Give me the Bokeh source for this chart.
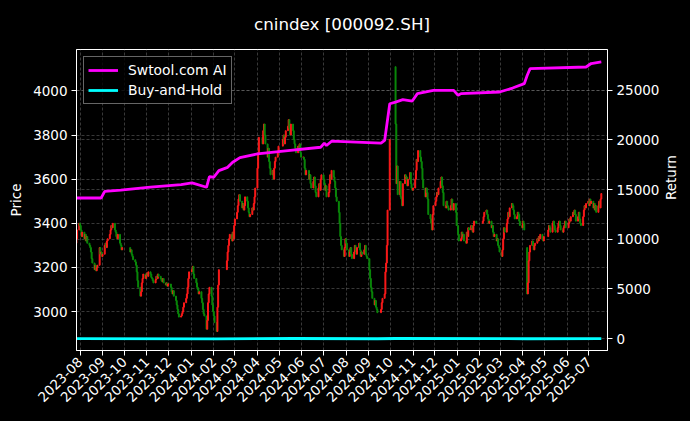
import math
import pandas as pd
from bokeh.plotting import figure
from bokeh.models import (Range1d, LinearAxis, Grid, FixedTicker, MonthsTicker,
                          DatetimeTickFormatter, ColumnDataSource, Legend, LegendItem)
from bokeh.embed import file_html
from bokeh.resources import INLINE

# ---------------- data ----------------
TITLE = "cnindex [000092.SH]"
start_date = "2023-07-27"
end_date = "2025-07-18"
holidays = ["2023-09-29", "2023-10-02", "2023-10-03", "2023-10-04", "2023-10-05", "2023-10-06",
            "2024-01-01", "2024-02-09", "2024-02-12", "2024-02-13", "2024-02-14", "2024-02-15",
            "2024-02-16", "2024-04-04", "2024-04-05", "2024-05-01", "2024-05-02", "2024-05-03",
            "2024-06-10", "2024-09-16", "2024-09-17", "2024-10-01", "2024-10-02", "2024-10-03",
            "2024-10-04", "2024-10-07", "2025-01-01", "2025-01-28", "2025-01-29", "2025-01-30",
            "2025-01-31", "2025-02-03", "2025-02-04", "2025-04-04", "2025-05-01", "2025-05-02",
            "2025-05-05", "2025-06-02"]

close = [
    # 2023-07
    3330, 3370, 3400,
    # 2023-08
    3390, 3370, 3340, 3360, 3330, 3350, 3320, 3340, 3310, 3300, 3290, 3270, 3240, 3220,
    3190, 3210, 3185, 3200, 3210, 3290, 3260, 3270, 3250,
    # 2023-09
    3260, 3300, 3310, 3290, 3320, 3330, 3350, 3370, 3390, 3380, 3400, 3370, 3360, 3340,
    3330, 3350, 3310, 3300, 3280, 3290,
    # 2023-10
    3270, 3280, 3260, 3250, 3235, 3225, 3210, 3180, 3140, 3110, 3070, 3090, 3130, 3150,
    3170, 3150, 3165,
    # 2023-11
    3175, 3160, 3180, 3170, 3155, 3150, 3140, 3130, 3145, 3160, 3150, 3170, 3160, 3150,
    3140, 3135, 3150, 3130, 3120, 3130, 3115, 3125,
    # 2023-12
    3125, 3110, 3090, 3080, 3095, 3070, 3050, 3030, 3010, 2990, 2975, 2980, 2990, 3000,
    3020, 3040, 3060, 3080, 3110, 3150, 3180,
    # 2024-01
    3190, 3205, 3170, 3150, 3130, 3110, 3100, 3080, 3090, 3060, 3040, 3010, 2990, 2980,
    2920, 2960, 3040, 3080, 3110, 3070, 3030, 3000,
    # 2024-02
    2980, 2950, 2910, 3020, 3120, 3190, 3230, 3270, 3300, 3330, 3350, 3320, 3360, 3330, 3390,
    # 2024-03
    3420, 3450, 3480, 3510, 3530, 3500, 3470, 3490, 3460, 3480, 3520, 3500, 3470, 3450,
    3430, 3440, 3470, 3460, 3490, 3520, 3560,
    # 2024-04
    3650, 3720, 3790, 3760, 3820, 3850, 3800, 3760, 3700, 3740, 3680, 3650, 3620, 3640,
    3600, 3650, 3680, 3700, 3720, 3750,
    # 2024-05
    3780, 3800, 3760, 3790, 3820, 3840, 3870, 3830, 3800, 3850, 3820, 3780, 3760, 3740,
    3720, 3750, 3730, 3760, 3720, 3700,
    # 2024-06
    3700, 3690, 3650, 3620, 3640, 3600, 3620, 3580, 3560, 3590, 3610, 3570, 3540, 3520,
    3560, 3580, 3550, 3600, 3620,
    # 2024-07
    3600, 3580, 3550, 3570, 3520, 3540, 3580, 3620, 3600, 3640, 3610, 3590, 3560, 3520,
    3500, 3450, 3400, 3340, 3300, 3280, 3250, 3290, 3330,
    # 2024-08
    3310, 3280, 3250, 3270, 3290, 3260, 3240, 3270, 3300, 3280, 3260, 3290, 3310, 3280,
    3250, 3270, 3260, 3280, 3300, 3260, 3250, 3240,
    # 2024-09
    3190, 3150, 3110, 3090, 3060, 3030, 3050, 3020, 3010, 2995, 3010, 3040, 3060, 3080,
    3180, 3220, 3300, 3460, 3780,
    # 2024-10
    3850, 3580, 3660, 3530, 3590, 3520, 3510, 3480, 3580, 3620, 3600, 3610, 3570, 3600,
    3630, 3580, 3560, 3550,
    # 2024-11
    3560, 3600, 3640, 3690, 3680, 3730, 3700, 3680, 3650, 3600, 3560, 3520, 3560, 3540,
    3510, 3440, 3420, 3400, 3370, 3440, 3480,
    # 2024-12
    3500, 3520, 3540, 3530, 3560, 3590, 3610, 3570, 3540, 3480, 3470, 3500, 3480, 3470,
    3460, 3480, 3510, 3470, 3460, 3490, 3450, 3390,
    # 2025-01
    3350, 3320, 3330, 3360, 3340, 3350, 3320, 3310, 3360, 3340, 3380, 3370, 3390, 3380,
    3360, 3390, 3410, 3400,
    # 2025-02
    3410, 3430, 3450, 3460, 3440, 3420, 3400, 3410, 3380, 3390, 3360, 3340, 3350, 3320,
    3330, 3300, 3290, 3270,
    # 2025-03
    3250, 3280, 3330, 3380, 3360, 3400, 3420, 3450, 3430, 3470, 3490, 3480, 3460, 3440,
    3420, 3430, 3450, 3440, 3410, 3390, 3380,
    # 2025-04
    3410, 3400, 3370, 3080, 3130, 3230, 3270, 3300, 3320, 3300, 3280, 3300, 3310, 3330,
    3320, 3340, 3330, 3350, 3330, 3320, 3340,
    # 2025-05
    3370, 3390, 3380, 3360, 3400, 3410, 3390, 3370, 3360, 3380, 3400, 3410, 3390, 3370,
    3360, 3380, 3390, 3410, 3380,
    # 2025-06
    3400, 3420, 3410, 3430, 3450, 3440, 3460, 3440, 3410, 3430, 3450, 3420, 3400, 3390,
    3430, 3460, 3480, 3470, 3490, 3500,
    # 2025-07
    3480, 3510, 3490, 3500, 3470, 3490, 3460, 3480, 3450, 3480, 3500, 3470, 3510, 3535,
]
first_open = 3310
gap_open_dates = ["2024-10-08", "2025-04-07"]
gap_open_values = [4110, 3290]

ret_dates = ["2023-07-27", "2023-08-30", "2023-09-04", "2023-09-26", "2023-11-06",
             "2023-12-18", "2024-01-02", "2024-01-22", "2024-01-26", "2024-02-01",
             "2024-02-08", "2024-02-20", "2024-02-27", "2024-03-08", "2024-04-01",
             "2024-05-13", "2024-06-27", "2024-07-02", "2024-07-05", "2024-07-12",
             "2024-09-18", "2024-09-23", "2024-09-30", "2024-10-08", "2024-10-18",
             "2024-10-31", "2024-11-07", "2024-11-29", "2024-12-27", "2025-01-02",
             "2025-01-06", "2025-02-28", "2025-03-18", "2025-04-03", "2025-04-07",
             "2025-04-11", "2025-06-27", "2025-07-04", "2025-07-18"]
ret_values = [14160, 14160, 14830, 14950, 15250,
              15500, 15680, 15240, 16310, 16250,
              16920, 17250, 17760, 18230, 18600,
              18940, 19270, 19680, 19440, 19880,
              19680, 19950, 23650, 23820, 24060,
              23920, 24670, 25000, 25000, 24500,
              24670, 24830, 25230, 25670, 26500,
              27190, 27350, 27700, 27860]

bh_dates = ["2023-07-27", "2024-02-05", "2024-05-20", "2024-09-13", "2024-10-08",
            "2025-04-07", "2025-07-18"]
bh_values = [0, -13, 15, -10, 15, -8, 6]

price_ticks = [3000, 3200, 3400, 3600, 3800, 4000]
return_ticks = [0, 5000, 10000, 15000, 20000, 25000]

# ---------------- build ----------------
dates = pd.bdate_range(start_date, end_date)
dates = dates[~dates.isin(pd.to_datetime(holidays))]
n = min(len(dates), len(close))
dates = dates[:n]
cl = close[:n]
op = [first_open] + cl[:-1]
gaps = dict(zip(pd.to_datetime(gap_open_dates), gap_open_values))
op = [gaps.get(d, o) for d, o in zip(dates, op)]

colors = ["#ff1a1a" if c >= o else "#0a8a0a" for o, c in zip(op, cl)]
src = ColumnDataSource(dict(
    x=dates, top=[max(o, c) for o, c in zip(op, cl)],
    bottom=[min(o, c) for o, c in zip(op, cl)], color=colors))

FONT = "DejaVu Sans"
p = figure(width=690, height=421, x_axis_type="datetime",
           x_range=Range1d(pd.Timestamp("2023-07-27 04:00"), pd.Timestamp("2025-07-26 12:00")),
           y_range=Range1d(2823.6, 4188),
           output_backend="svg", toolbar_location=None,
           min_border_left=76, min_border_right=83, min_border_top=49, min_border_bottom=71,
           background_fill_color="black", border_fill_color="black",
           outline_line_color="white", outline_line_width=1)
p.extra_y_ranges = {"ret": Range1d(-1192, 29111)}

p.title.text = TITLE
p.title.align = "center"
p.title.vertical_align = "top"
p.title.text_color = "white"
p.title.text_font = FONT
p.title.text_font_size = "16.7px"
p.title.text_font_style = "normal"
p.title.standoff = 27

p.vbar(x="x", width=86400000 * 1.3, top="top", bottom="bottom",
       fill_color="color", line_color="color", line_width=1, source=src)

r_ai = p.line(pd.to_datetime(ret_dates), ret_values, y_range_name="ret",
              line_color="#ff00ff", line_width=2.8)
r_bh = p.line(pd.to_datetime(bh_dates), bh_values, y_range_name="ret",
              line_color="#00ffff", line_width=2.8)

# axes
month_ticker = MonthsTicker(months=list(range(1, 13)))
p.xaxis.ticker = month_ticker
p.xaxis.formatter = DatetimeTickFormatter(days="%Y-%m", months="%Y-%m", years="%Y-%m")
p.xaxis.major_label_orientation = math.pi / 4
p.yaxis.ticker = FixedTicker(ticks=price_ticks)
p.yaxis.axis_label = "Price"

ax_r = LinearAxis(y_range_name="ret", axis_label="Return",
                  ticker=FixedTicker(ticks=return_ticks))
ax_r.axis_label_orientation = math.pi / 2
p.add_layout(ax_r, "right")

for ax in [p.xaxis[0], p.yaxis[0], ax_r]:
    ax.axis_line_color = "white"
    ax.major_tick_line_color = "white"
    ax.minor_tick_line_color = None
    ax.major_tick_in = 0
    ax.major_tick_out = 5
    ax.major_label_text_color = "white"
    ax.major_label_text_font = FONT
    ax.major_label_text_font_size = "13.5px"
    ax.major_label_standoff = 4
    ax.axis_label_text_color = "white"
    ax.axis_label_text_font = FONT
    ax.axis_label_text_font_size = "13.5px"
    ax.axis_label_text_font_style = "normal"
    ax.axis_label_standoff = 6
ax_r.axis_label_standoff = 9

# grids
for g in [p.xgrid[0], p.ygrid[0]]:
    g.grid_line_color = "#808080"
    g.grid_line_alpha = 0.55
    g.grid_line_dash = "3 2"
    g.grid_line_width = 0.8
p.xgrid.ticker = month_ticker
p.ygrid.ticker = FixedTicker(ticks=price_ticks)
g_r = Grid(dimension=1, ticker=FixedTicker(ticks=return_ticks), y_range_name="ret",
           grid_line_color="#808080", grid_line_alpha=0.55, grid_line_dash="3 2",
           grid_line_width=0.8)
p.add_layout(g_r)

legend = Legend(items=[LegendItem(label="Swtool.com AI", renderers=[r_ai]),
                       LegendItem(label="Buy-and-Hold", renderers=[r_bh])],
                location="top_left", margin=7, padding=4, spacing=2,
                label_height=18, glyph_height=18, glyph_width=30, label_standoff=10,
                label_text_font=FONT, label_text_font_size="13.9px",
                label_text_color="white", background_fill_color="black",
                background_fill_alpha=0.8, border_line_color="#cccccc",
                border_line_width=1)
p.add_layout(legend)

html = file_html(p, INLINE).replace("<head>", "<head><style>html,body{background:#000;}</style>", 1)
open("out.html", "w").write(html)
